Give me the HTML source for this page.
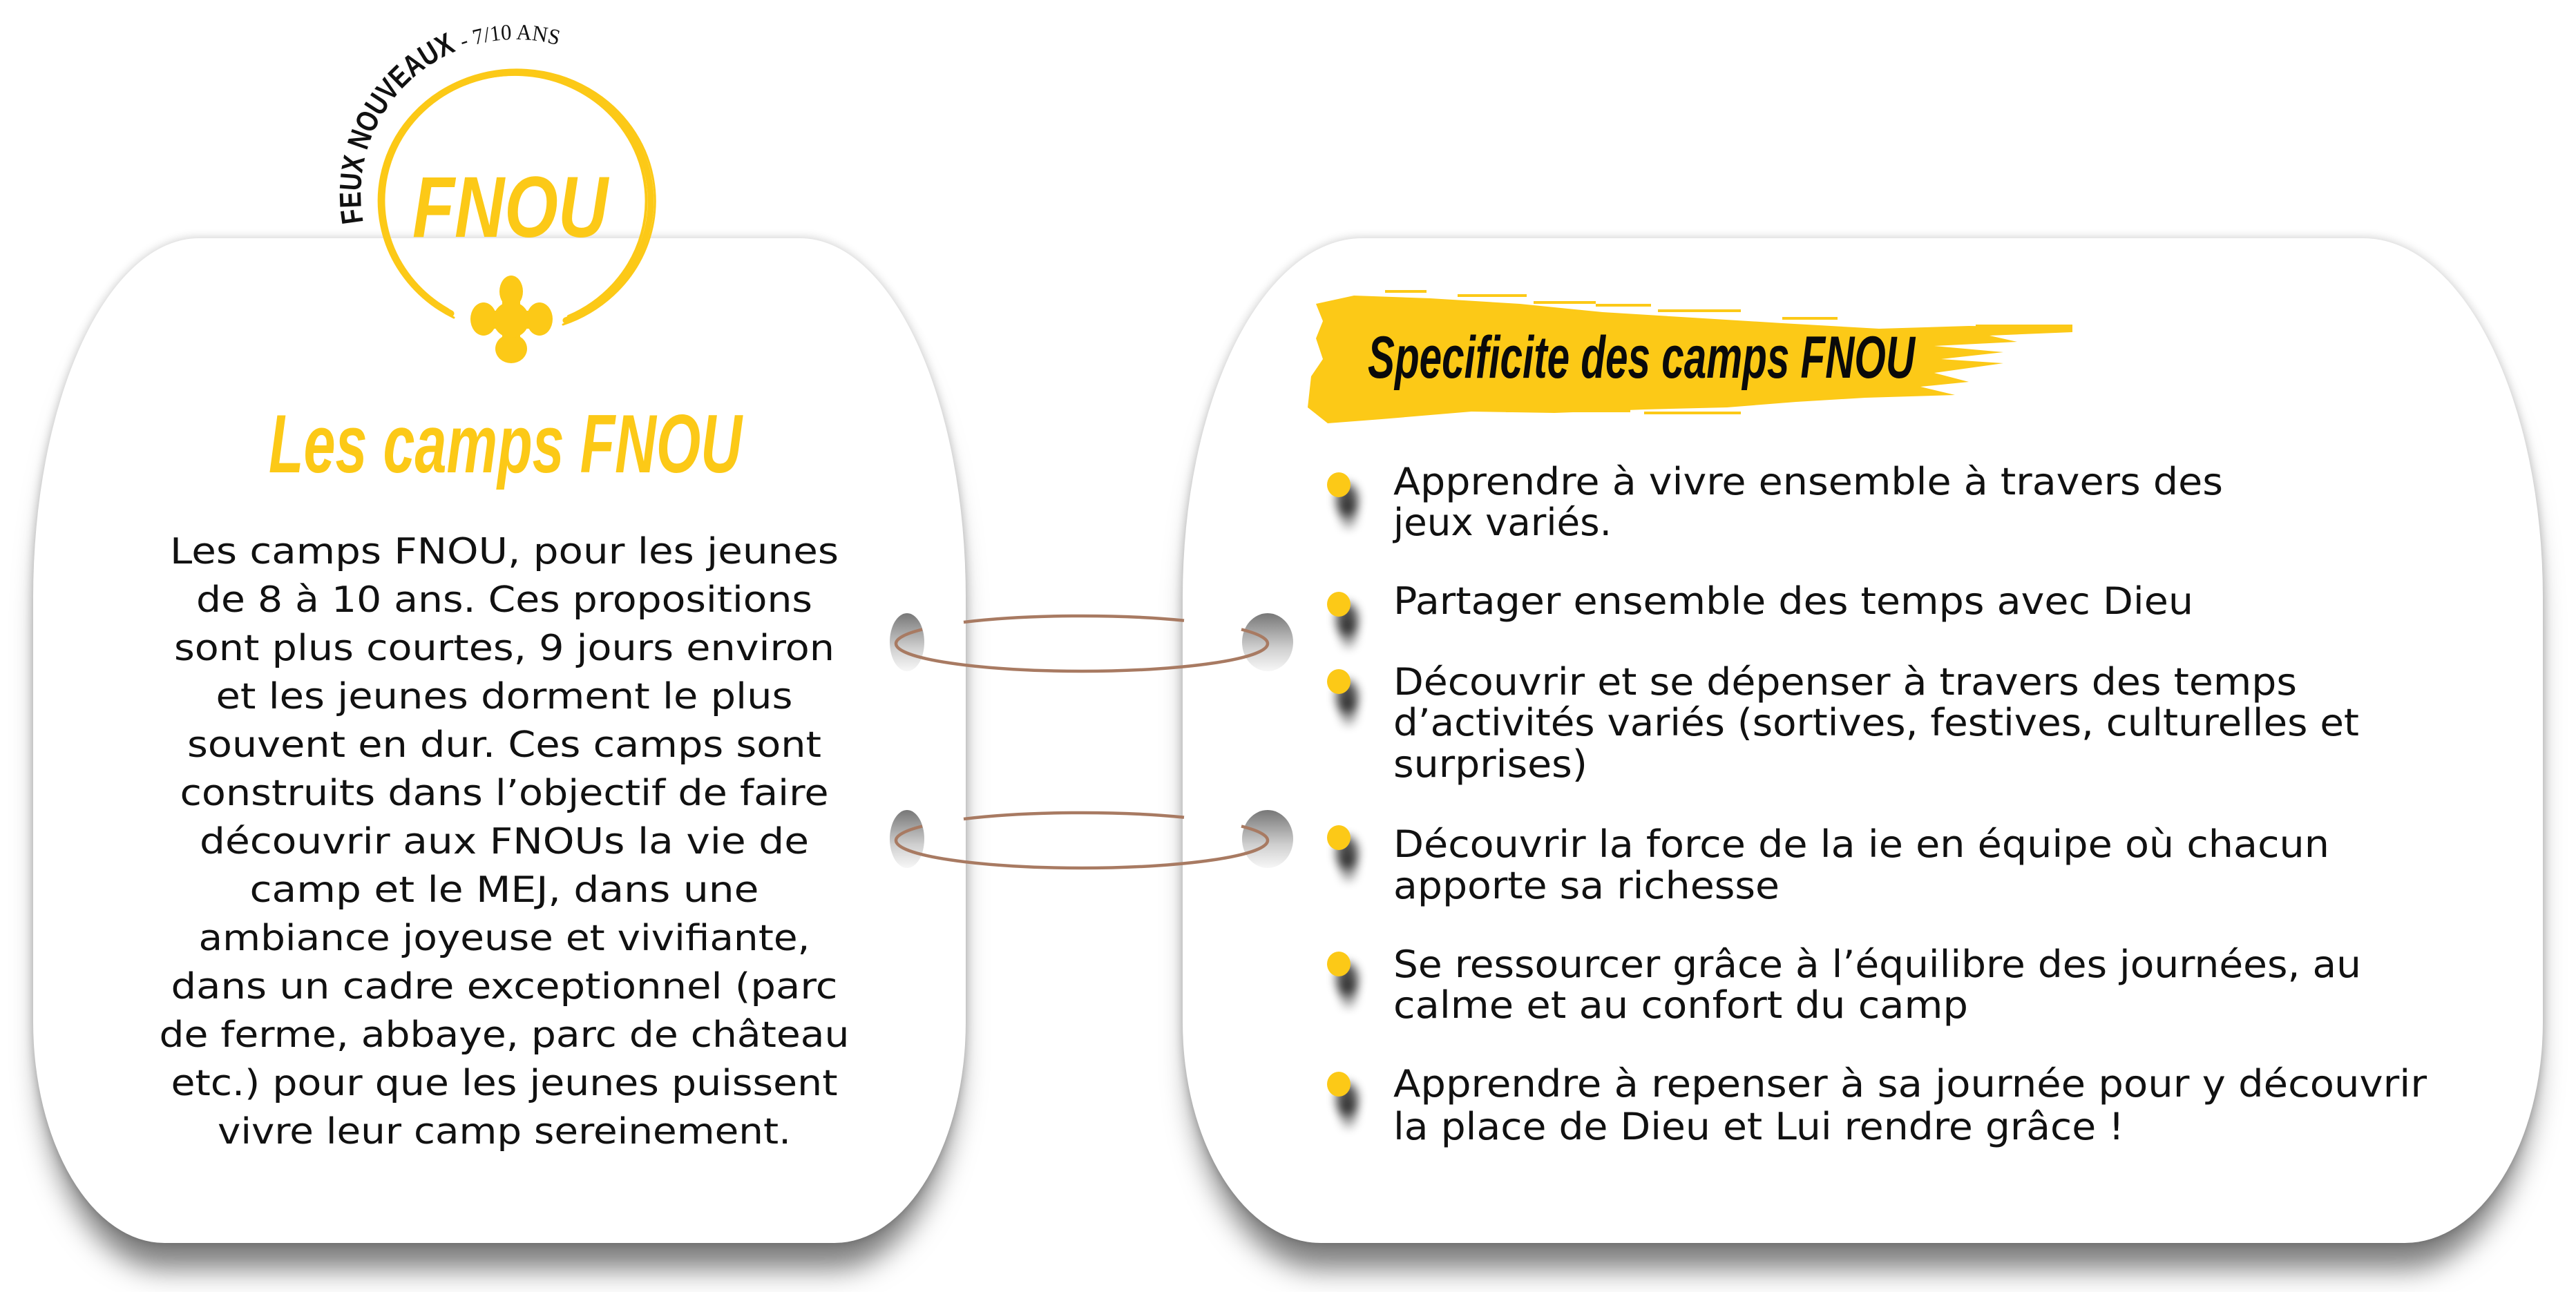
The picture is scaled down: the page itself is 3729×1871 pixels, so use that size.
<!DOCTYPE html>
<html><head><meta charset="utf-8"><style>
html,body{margin:0;padding:0;background:#fff;}
body{width:3729px;height:1871px;position:relative;overflow:hidden;}
.card{position:absolute;background:#fff;box-shadow:0 50px 40px -12px rgba(0,0,0,.5),0 0 14px rgba(0,0,0,.22);}
#c1{left:48px;top:345px;width:1350px;height:1455px;border-radius:240px 240px 190px 190px / 520px 520px 320px 320px;}
#c2{left:1712px;top:345px;width:1969px;height:1455px;border-radius:260px 260px 200px 200px / 520px 520px 320px 320px;}
svg{position:absolute;left:0;top:0;}
</style></head><body>
<div class="card" id="c1"></div>
<div class="card" id="c2"></div>
<svg width="3729" height="1871" viewBox="0 0 3729 1871">
<defs>
<linearGradient id="hole" x1="0" y1="0" x2="0" y2="1"><stop offset="0" stop-color="#777"/><stop offset="0.6" stop-color="#cfcfcf"/><stop offset="1" stop-color="#f7f7f7"/></linearGradient>
<filter id="bs" x="-1" y="-1" width="3" height="3"><feGaussianBlur stdDeviation="7"/></filter>
<path id="arcp" d="M526,322 A224,224 0 0 1 809,66"/>
</defs>
<g fill="none" stroke="#FCC917" stroke-linecap="round">
<path d="M819,464 A195,186 0 1 0 653,454" stroke-width="9"/>
<path d="M823,458 A190,183 0 1 0 648,448" stroke-width="4"/>
<path d="M815,470 A200,190 0 1 0 657,460" stroke-width="3"/>
</g>
<text font-family="Liberation Sans, sans-serif" font-weight="bold" font-size="44" fill="#111"><textPath href="#arcp" textLength="305" lengthAdjust="spacingAndGlyphs">FEUX NOUVEAUX</textPath></text>
<text font-family="Liberation Serif, serif" font-size="32" fill="#111"><textPath href="#arcp" startOffset="315" textLength="140" lengthAdjust="spacingAndGlyphs">- 7/10 ANS</textPath></text>
<text x="597" y="343" font-family="Liberation Sans Narrow, Liberation Sans, sans-serif" font-weight="bold" font-style="italic" font-size="125" fill="#FCC917" textLength="283" lengthAdjust="spacingAndGlyphs">FNOU</text>
<g fill="#FCC917">
<ellipse cx="740" cy="422" rx="17" ry="23"/>
<ellipse cx="740" cy="505" rx="23" ry="21"/>
<ellipse cx="700" cy="462" rx="19" ry="24"/>
<ellipse cx="781" cy="462" rx="19" ry="24"/>
<rect x="727" y="425" width="26" height="80"/>
<rect x="702" y="450" width="78" height="26"/>
<circle cx="740" cy="463" r="26"/>
</g>
<text x="389" y="684" font-family="Liberation Sans Narrow, Liberation Sans, sans-serif" font-weight="bold" font-style="italic" font-size="120" fill="#FCC917" textLength="685" lengthAdjust="spacingAndGlyphs">Les camps FNOU</text>
<g font-family="DejaVu Sans, Liberation Sans, sans-serif" font-size="52" fill="#111" text-anchor="middle">
<text x="730" y="816" textLength="968" lengthAdjust="spacingAndGlyphs">Les camps FNOU, pour les jeunes</text>
<text x="730" y="886" textLength="892" lengthAdjust="spacingAndGlyphs">de 8 à 10 ans. Ces propositions</text>
<text x="730" y="956" textLength="956" lengthAdjust="spacingAndGlyphs">sont plus courtes, 9 jours environ</text>
<text x="730" y="1026" textLength="835" lengthAdjust="spacingAndGlyphs">et les jeunes dorment le plus</text>
<text x="730" y="1096" textLength="918" lengthAdjust="spacingAndGlyphs">souvent en dur. Ces camps sont</text>
<text x="730" y="1166" textLength="939" lengthAdjust="spacingAndGlyphs">construits dans l’objectif de faire</text>
<text x="730" y="1236" textLength="882" lengthAdjust="spacingAndGlyphs">découvrir aux FNOUs la vie de</text>
<text x="730" y="1306" textLength="737" lengthAdjust="spacingAndGlyphs">camp et le MEJ, dans une</text>
<text x="730" y="1376" textLength="885" lengthAdjust="spacingAndGlyphs">ambiance joyeuse et vivifiante,</text>
<text x="730" y="1446" textLength="965" lengthAdjust="spacingAndGlyphs">dans un cadre exceptionnel (parc</text>
<text x="730" y="1516" textLength="999" lengthAdjust="spacingAndGlyphs">de ferme, abbaye, parc de château</text>
<text x="730" y="1586" textLength="965" lengthAdjust="spacingAndGlyphs">etc.) pour que les jeunes puissent</text>
<text x="730" y="1656" textLength="830" lengthAdjust="spacingAndGlyphs">vivre leur camp sereinement.</text>
</g>
<g fill="#FCC917">
<polygon points="1905,440 1960,428 2070,432 2200,440 2320,452 2450,460 2580,468 2720,476 2850,472 3000,474 3000,481 2880,486 2920,495 2800,501 2900,510 2810,520 2900,526 2800,540 2850,553 2780,560 2830,572 2700,576 2600,582 2500,590 2380,593 2250,598 2130,596 2000,607 1922,613 1893,590 1898,545 1915,520 1905,490 1915,465"/>
<rect x="2005" y="420" width="60" height="4"/>
<rect x="2110" y="426" width="100" height="4"/>
<rect x="2220" y="436" width="90" height="4"/>
<rect x="2310" y="440" width="80" height="4"/>
<rect x="2400" y="448" width="120" height="4"/>
<rect x="2580" y="459" width="80" height="4"/>
<rect x="2180" y="592" width="180" height="5"/>
<rect x="2380" y="596" width="140" height="4"/>
<rect x="2860" y="470" width="140" height="5"/>
</g>
<text x="1980" y="547" font-family="Liberation Sans Narrow, Liberation Sans, sans-serif" font-weight="bold" font-style="italic" font-size="86" fill="#0a0a0a" textLength="792" lengthAdjust="spacingAndGlyphs">Specificite des camps FNOU</text>
<g>
<g fill="#000" opacity="0.7" filter="url(#bs)">
<ellipse cx="1950" cy="724" rx="16" ry="24"/><ellipse cx="1950" cy="897" rx="16" ry="24"/><ellipse cx="1950" cy="1009" rx="16" ry="24"/><ellipse cx="1950" cy="1235" rx="16" ry="24"/><ellipse cx="1950" cy="1418" rx="16" ry="24"/><ellipse cx="1950" cy="1592" rx="16" ry="24"/>
</g>
<g fill="#000" opacity="0.35" filter="url(#bs)">
<ellipse cx="1952" cy="745" rx="12" ry="20"/><ellipse cx="1952" cy="918" rx="12" ry="20"/><ellipse cx="1952" cy="1030" rx="12" ry="20"/><ellipse cx="1952" cy="1256" rx="12" ry="20"/><ellipse cx="1952" cy="1439" rx="12" ry="20"/><ellipse cx="1952" cy="1613" rx="12" ry="20"/>
</g>
<g fill="#FCC917">
<ellipse cx="1938" cy="702" rx="17" ry="18"/><ellipse cx="1938" cy="875" rx="17" ry="18"/><ellipse cx="1938" cy="987" rx="17" ry="18"/><ellipse cx="1938" cy="1213" rx="17" ry="18"/><ellipse cx="1938" cy="1396" rx="17" ry="18"/><ellipse cx="1938" cy="1570" rx="17" ry="18"/>
</g>
</g>
<g font-family="DejaVu Sans, Liberation Sans, sans-serif" font-size="54" fill="#111">
<text x="2017" y="716" textLength="1201" lengthAdjust="spacingAndGlyphs">Apprendre à vivre ensemble à travers des</text>
<text x="2017" y="775" textLength="316" lengthAdjust="spacingAndGlyphs">jeux variés.</text>
<text x="2017" y="889" textLength="1158" lengthAdjust="spacingAndGlyphs">Partager ensemble des temps avec Dieu</text>
<text x="2017" y="1006" textLength="1308" lengthAdjust="spacingAndGlyphs">Découvrir et se dépenser à travers des temps</text>
<text x="2017" y="1065" textLength="1398" lengthAdjust="spacingAndGlyphs">d’activités variés (sortives, festives, culturelles et</text>
<text x="2017" y="1125" textLength="281" lengthAdjust="spacingAndGlyphs">surprises)</text>
<text x="2017" y="1241" textLength="1355" lengthAdjust="spacingAndGlyphs">Découvrir la force de la ie en équipe où chacun</text>
<text x="2017" y="1301" textLength="559" lengthAdjust="spacingAndGlyphs">apporte sa richesse</text>
<text x="2017" y="1415" textLength="1401" lengthAdjust="spacingAndGlyphs">Se ressourcer grâce à l’équilibre des journées, au</text>
<text x="2017" y="1474" textLength="832" lengthAdjust="spacingAndGlyphs">calme et au confort du camp</text>
<text x="2017" y="1588" textLength="1496" lengthAdjust="spacingAndGlyphs">Apprendre à repenser à sa journée pour y découvrir</text>
<text x="2017" y="1650" textLength="1058" lengthAdjust="spacingAndGlyphs">la place de Dieu et Lui rendre grâce !</text>
</g>
<g>
<ellipse cx="1313" cy="930" rx="25" ry="42" fill="url(#hole)"/>
<ellipse cx="1835" cy="930" rx="37" ry="42" fill="url(#hole)"/>
<ellipse cx="1313" cy="1215" rx="25" ry="42" fill="url(#hole)"/>
<ellipse cx="1835" cy="1215" rx="37" ry="42" fill="url(#hole)"/>
</g>
<g fill="none" stroke="#A87A62" stroke-width="4.5">
<path d="M1297,932 A269,40 0 0 0 1835,932"/>
<path d="M1335,911.5 A269,40 0 0 0 1297,932"/>
<path d="M1835,932 A269,40 0 0 0 1797,911.5"/>
<path d="M1395,901 A269,40 0 0 1 1714,898.6"/>
<path d="M1297,1217 A269,40 0 0 0 1835,1217"/>
<path d="M1335,1196.5 A269,40 0 0 0 1297,1217"/>
<path d="M1835,1217 A269,40 0 0 0 1797,1196.5"/>
<path d="M1395,1186 A269,40 0 0 1 1714,1183.6"/>
</g>
</svg>
</body></html>
